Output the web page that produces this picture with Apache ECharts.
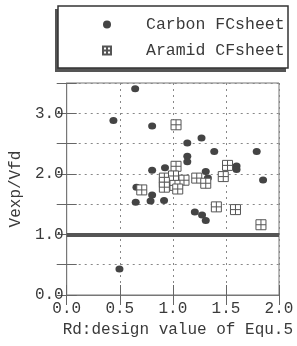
<!DOCTYPE html>
<html>
<head>
<meta charset="utf-8">
<script src="https://cdn.jsdelivr.net/npm/echarts@6/dist/echarts.min.js"></script>
<style>
html, body { margin: 0; padding: 0; background: #fff; }
#main { width: 297px; height: 346px; }
</style>
</head>
<body>
<div id="main"></div>
<script>
// 数据：点
var seriesNames = ['Carbon FCsheet', 'Aramid CFsheet'];
var carbonRd = [0.645, 0.44, 0.805, 1.136, 1.27, 1.39, 1.79, 1.136, 1.136, 0.805, 0.926, 1.31, 1.60, 1.60, 1.85, 1.33, 0.657, 0.805, 0.79, 0.65, 0.917, 1.207, 1.275, 1.31, 0.497];
var carbonV = [3.405, 2.88, 2.79, 2.51, 2.59, 2.37, 2.37, 2.29, 2.20, 2.06, 2.10, 2.04, 2.13, 2.07, 1.90, 1.93, 1.78, 1.65, 1.55, 1.53, 1.56, 1.37, 1.32, 1.23, 0.43];
var aramidRd = [1.03, 1.03, 1.515, 1.475, 0.92, 1.006, 0.92, 0.92, 1.105, 1.225, 1.31, 1.02, 1.046, 0.707, 1.41, 1.59, 1.83];
var aramidV = [2.81, 2.125, 2.14, 1.955, 1.93, 1.965, 1.86, 1.78, 1.895, 1.93, 1.845, 1.81, 1.75, 1.735, 1.455, 1.41, 1.16];
var refLine = 1.0;
var xTicks = [0.0, 0.5, 1.0, 1.5, 2.0];
var yTicks = [0.0, 1.0, 2.0, 3.0];

function pairs(xs, ys) {
	return xs.map(function(x, i) { return [x, ys[i]]; });
}

var myChart = echarts.init(document.getElementById('main'));
var font = 'Liberation Mono';
var ink = '#3a3a3a';
var squareIcon = 'path://M0,0H10V10H0Z M5,0V10 M0,5H10';

var tickStyle = { show: true, inside: true, length: 10, lineStyle: { color: '#666', width: 1 } };
var gridStyle = { show: true, lineStyle: { color: '#888', width: 1, type: [2, 4] } };

var option = {
	backgroundColor: '#fff',
	animation: false,
	// 图例的框和阴影（阴影在左边和下边）
	graphic: [
		{ type: 'rect', z: 0, shape: { x: 55, y: 9, width: 231, height: 63 }, style: { fill: '#555' } },
		{ type: 'rect', z: 1, shape: { x: 58, y: 6, width: 230, height: 62 }, style: { fill: '#fff', stroke: '#333', lineWidth: 1.5 } }
	],
	legend: {
		orient: 'vertical',
		left: 58,
		top: 6,
		z: 5,
		padding: [10, 3, 11, 44],
		itemGap: 9,
		itemWidth: 8,
		itemHeight: 8,
		data: [
			{ name: seriesNames[0], icon: 'circle', itemStyle: { color: '#444' } },
			{ name: seriesNames[1], icon: squareIcon }
		],
		textStyle: { fontFamily: font, fontSize: 16.5, color: ink, lineHeight: 16, padding: [0, 0, 0, 30] }
	},
	grid: { left: 63, right: 18, top: 83, bottom: 51, show: true, borderColor: '#777', borderWidth: 1 },
	xAxis: [{
		type: 'value', min: 0, max: 2, interval: 0.5,
		axisLine: { show: true, lineStyle: { color: '#777' } },
		axisTick: tickStyle,
		splitLine: gridStyle,
		axisLabel: {
			margin: 6, fontFamily: font, fontSize: 16, color: ink,
			formatter: function(v) { return xTicks.indexOf(v) >= 0 ? v.toFixed(1) : ''; }
		},
		name: 'Rd:design value of Equ.5',
		nameLocation: 'middle',
		nameGap: 18,
		nameTextStyle: { fontFamily: font, fontSize: 16, color: ink, padding: [0, 0, 0, 10] }
	}, {
		type: 'value', min: 0, max: 2, interval: 0.5, position: 'top',
		axisLine: { show: false }, axisTick: tickStyle, axisLabel: { show: false }, splitLine: { show: false }
	}],
	yAxis: [{
		type: 'value', min: 0, max: 3.5, interval: 0.5,
		axisLine: { show: true, lineStyle: { color: '#777' } },
		axisTick: tickStyle,
		splitLine: gridStyle,
		axisLabel: {
			margin: 3, fontFamily: font, fontSize: 16, color: ink,
			formatter: function(v) { return yTicks.indexOf(v) >= 0 ? v.toFixed(1) : ''; }
		},
		name: 'Vexp/Vfd',
		nameLocation: 'middle',
		nameGap: 36,
		nameTextStyle: { fontFamily: font, fontSize: 16, color: ink }
	}, {
		type: 'value', min: 0, max: 3.5, interval: 0.5, position: 'right',
		axisLine: { show: false }, axisTick: tickStyle, axisLabel: { show: false }, splitLine: { show: false }
	}],
	series: [{
		name: seriesNames[0],
		type: 'scatter',
		symbol: 'circle',
		symbolSize: [8, 7],
		itemStyle: { color: '#444', opacity: 1 },
		data: pairs(carbonRd, carbonV),
		markLine: {
			silent: true,
			symbol: 'none',
			label: { show: false },
			lineStyle: { color: '#555', width: 4, type: 'solid' },
			data: [{ yAxis: refLine }]
		}
	}, {
		name: seriesNames[1],
		type: 'scatter',
		symbol: squareIcon,
		symbolSize: 10,
		itemStyle: { color: '#fff', borderColor: '#555', borderWidth: 1, opacity: 1 },
		data: pairs(aramidRd, aramidV)
	}]
};

myChart.setOption(option);
</script>
</body>
</html>
